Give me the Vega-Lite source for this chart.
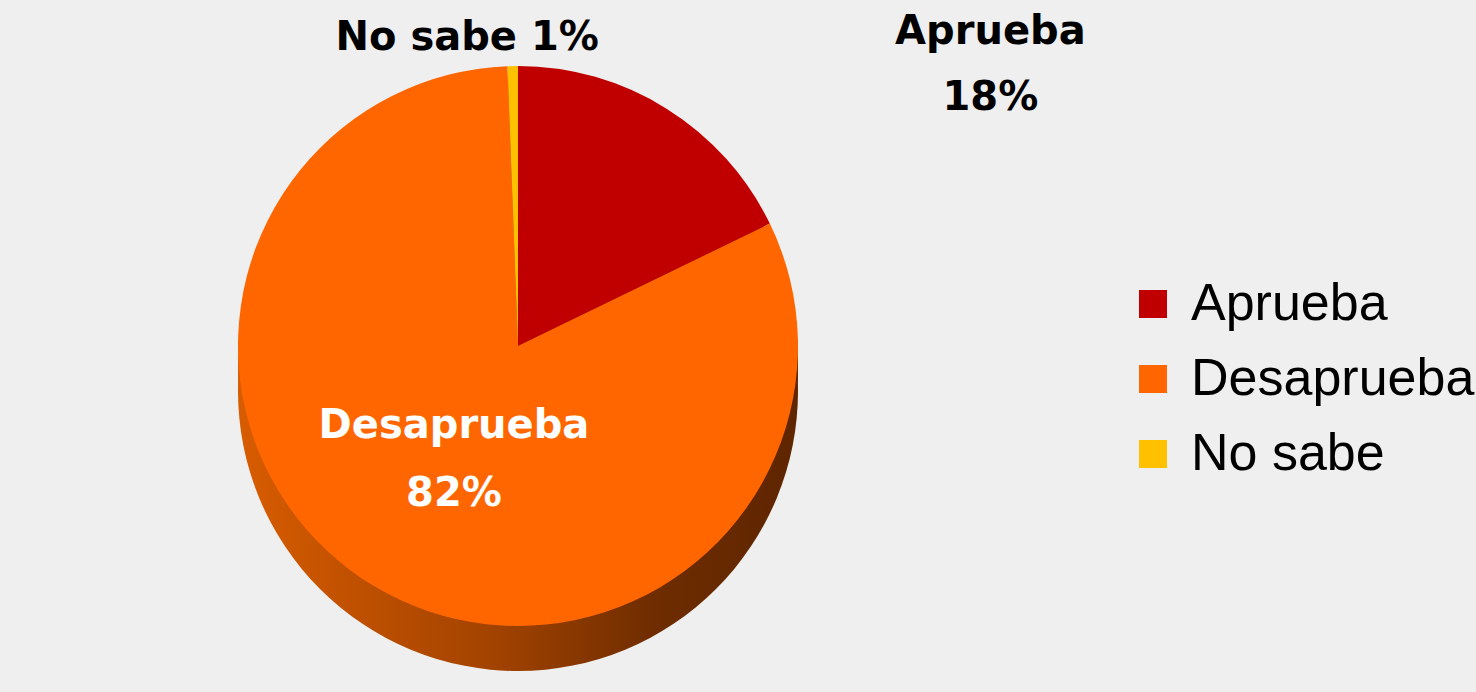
{
  "$schema": "https://vega.github.io/schema/vega-lite/v6.json",
  "width": 1036,
  "height": 692,
  "padding": {"left": 0, "top": 0, "right": 440, "bottom": 0},
  "autosize": {"type": "none"},
  "background": "#efefef",
  "config": {"view": {"stroke": null}},
  "datasets": {
    "pie": [
      {"cat": "Aprueba", "value": 17.8, "ord": 1, "label": ["Aprueba", "18%"]},
      {"cat": "Desaprueba", "value": 81.6, "ord": 2, "label": ["Desaprueba", "82%"]},
      {"cat": "No sabe", "value": 0.6, "ord": 3, "label": ["No sabe 1%"]}
    ],
    "side": [{"part": "side"}]
  },
  "layer": [
    {
      "data": {"name": "side"},
      "mark": {"type": "arc", "radius": 280, "yOffset": 15,
        "fill": {"gradient": "linear", "x1": 0, "x2": 1, "y1": 0, "y2": 0,
          "stops": [{"offset": 0, "color": "#d85c00"}, {"offset": 0.45, "color": "#a34300"}, {"offset": 0.75, "color": "#6e2c00"}, {"offset": 1, "color": "#5e2500"}]}},
      "encoding": {}
    },
    {
      "data": {"name": "side"},
      "mark": {"type": "arc", "radius": 280, "yOffset": 30,
        "fill": {"gradient": "linear", "x1": 0, "x2": 1, "y1": 0, "y2": 0,
          "stops": [{"offset": 0, "color": "#d85c00"}, {"offset": 0.45, "color": "#a34300"}, {"offset": 0.75, "color": "#6e2c00"}, {"offset": 1, "color": "#5e2500"}]}},
      "encoding": {}
    },
    {
      "data": {"name": "side"},
      "mark": {"type": "arc", "radius": 280, "yOffset": 45,
        "fill": {"gradient": "linear", "x1": 0, "x2": 1, "y1": 0, "y2": 0,
          "stops": [{"offset": 0, "color": "#d85c00"}, {"offset": 0.45, "color": "#a34300"}, {"offset": 0.75, "color": "#6e2c00"}, {"offset": 1, "color": "#5e2500"}]}},
      "encoding": {}
    },
    {
      "data": {"name": "pie"},
      "mark": {"type": "arc", "radius": 280},
      "encoding": {
        "theta": {"field": "value", "type": "quantitative", "stack": true},
        "order": {"field": "ord", "type": "quantitative"},
        "color": {
          "field": "cat", "type": "nominal",
          "scale": {"domain": ["Aprueba", "Desaprueba", "No sabe"], "range": ["#c00000", "#ff6600", "#ffc000"]},
          "legend": {
            "title": null, "orient": "none", "legendX": 1127, "legendY": 278,
            "symbolType": "square", "symbolSize": 784, "symbolStrokeWidth": 0,
            "labelFont": "Liberation Sans", "labelFontSize": 52, "labelColor": "#000000",
            "labelOffset": 12, "rowPadding": 23, "labelLimit": 400
          }
        }
      }
    },
    {
      "data": {"name": "pie"},
      "mark": {"type": "text", "radius": 140, "font": "DejaVu Sans", "fontWeight": "bold", "fontSize": 40, "lineHeight": 68, "fill": "#ffffff", "dy": -40, "dx": 8},
      "encoding": {
        "theta": {"field": "value", "type": "quantitative", "stack": true},
        "order": {"field": "ord", "type": "quantitative"},
        "text": {"condition": {"test": "datum.cat === 'Desaprueba'", "field": "label"}, "value": ""}
      }
    },
    {
      "data": {"name": "pie"},
      "mark": {"type": "text", "radius": 340, "font": "DejaVu Sans", "fontWeight": "bold", "fontSize": 40, "lineHeight": 66, "fill": "#000000", "dx": 292, "dy": -26},
      "encoding": {
        "theta": {"field": "value", "type": "quantitative", "stack": true},
        "order": {"field": "ord", "type": "quantitative"},
        "text": {"condition": {"test": "datum.cat === 'Aprueba'", "field": "label"}, "value": ""}
      }
    },
    {
      "data": {"name": "pie"},
      "mark": {"type": "text", "radius": 308, "font": "DejaVu Sans", "fontWeight": "bold", "fontSize": 40, "fill": "#000000", "dx": -45},
      "encoding": {
        "theta": {"field": "value", "type": "quantitative", "stack": true},
        "order": {"field": "ord", "type": "quantitative"},
        "text": {"condition": {"test": "datum.cat === 'No sabe'", "field": "label"}, "value": ""}
      }
    }
  ]
}
